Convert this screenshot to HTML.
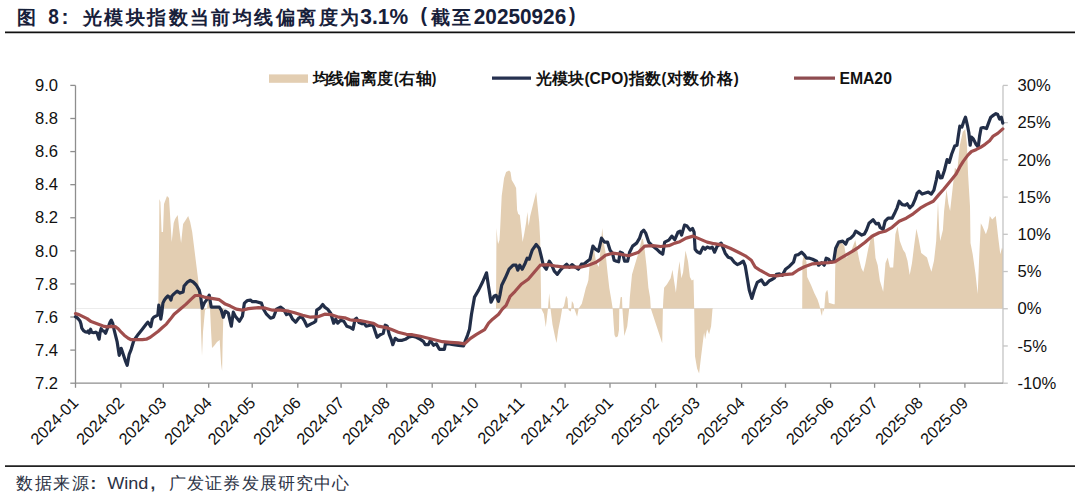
<!DOCTYPE html>
<html><head><meta charset="utf-8"><title>光模块指数当前均线偏离度</title>
<style>html,body{margin:0;padding:0;background:#fff;width:1080px;height:498px;overflow:hidden;font-family:"Liberation Sans", sans-serif;}svg{display:block;}</style>
</head><body>
<svg width="1080" height="498" viewBox="0 0 1080 498" font-family='"Liberation Sans", sans-serif' font-size="16.6" fill="#111">
<rect width="1080" height="498" fill="#ffffff"/>
<g fill="#17203a" font-weight="bold" font-size="19"><text x="26.90" y="23.8" text-anchor="middle">图</text><text x="48.3" y="24.2" textLength="10.6" lengthAdjust="spacingAndGlyphs" font-size="22.2">8</text><text x="61.6" y="24.4" font-size="21">:</text><text x="92.40" y="23.8" text-anchor="middle">光</text><text x="113.82" y="23.8" text-anchor="middle">模</text><text x="135.24" y="23.8" text-anchor="middle">块</text><text x="156.66" y="23.8" text-anchor="middle">指</text><text x="178.08" y="23.8" text-anchor="middle">数</text><text x="199.50" y="23.8" text-anchor="middle">当</text><text x="220.92" y="23.8" text-anchor="middle">前</text><text x="242.34" y="23.8" text-anchor="middle">均</text><text x="263.76" y="23.8" text-anchor="middle">线</text><text x="285.18" y="23.8" text-anchor="middle">偏</text><text x="306.60" y="23.8" text-anchor="middle">离</text><text x="328.02" y="23.8" text-anchor="middle">度</text><text x="349.44" y="23.8" text-anchor="middle">为</text><text x="360.3" y="24.2" textLength="47.8" lengthAdjust="spacingAndGlyphs" font-size="22.2">3.1%</text><text x="420.4" y="21.8" font-size="19.5">(</text><text x="440.75" y="23.8" text-anchor="middle">截</text><text x="461.90" y="23.8" text-anchor="middle">至</text><text x="473.8" y="24.2" textLength="92.4" lengthAdjust="spacingAndGlyphs" font-size="22.2">20250926</text><text x="569" y="21.8" font-size="19.5">)</text></g>
<g fill="#2b3244" font-size="17"><text x="24.70" y="489" text-anchor="middle">数</text><text x="43.20" y="489" text-anchor="middle">据</text><text x="61.65" y="489" text-anchor="middle">来</text><text x="80.30" y="489" text-anchor="middle">源</text><text x="90.6" y="489" font-weight="bold">:</text><text x="107.2" y="489" textLength="41.2" lengthAdjust="spacingAndGlyphs">Wind</text><text x="150.5" y="489" font-weight="bold">,</text><text x="177.60" y="489" text-anchor="middle">广</text><text x="195.70" y="489" text-anchor="middle">发</text><text x="213.80" y="489" text-anchor="middle">证</text><text x="231.90" y="489" text-anchor="middle">券</text><text x="250.00" y="489" text-anchor="middle">发</text><text x="268.10" y="489" text-anchor="middle">展</text><text x="286.20" y="489" text-anchor="middle">研</text><text x="304.30" y="489" text-anchor="middle">究</text><text x="322.40" y="489" text-anchor="middle">中</text><text x="340.50" y="489" text-anchor="middle">心</text></g><line x1="5" y1="32.4" x2="1075" y2="32.4" stroke="#111" stroke-width="1.6"/><line x1="5" y1="466.1" x2="1075" y2="466.1" stroke="#222" stroke-width="1.6"/>
<polygon points="158.3,308.5 159.0,250.0 159.4,199.0 160.4,202.0 161.6,232.0 163.0,232.0 164.0,204.0 167.0,196.0 169.0,198.0 170.0,214.0 171.7,242.0 173.7,223.0 175.1,219.0 177.7,215.0 179.1,228.0 181.1,243.0 183.1,224.0 185.7,220.0 188.2,216.0 190.2,222.0 192.2,232.0 194.2,248.0 196.2,264.0 198.2,280.0 199.8,300.5 200.5,308.5 201.0,330.0 202.0,356.0 203.0,332.0 205.0,310.0 207.0,308.5 208.0,300.0 209.0,300.0 210.0,308.5 211.0,330.0 212.0,348.0 214.0,346.0 217.0,342.0 219.7,340.0 221.1,364.0 222.1,371.0 222.7,340.0 223.5,312.0 224.0,308.5" fill="#e3ceb2"/>
<polygon points="496.0,308.5 496.5,228.0 497.5,240.0 498.1,244.0 499.5,240.0 500.1,230.0 501.7,196.0 504.1,178.0 506.1,172.0 509.1,170.4 510.5,172.0 511.7,180.0 514.1,184.0 516.1,188.0 517.1,210.0 518.2,214.0 519.8,215.0 521.2,228.0 522.6,242.0 524.2,234.0 526.2,222.0 527.4,212.0 528.6,226.0 530.2,216.0 532.2,208.0 534.2,200.0 536.2,192.0 537.8,208.0 539.2,222.0 540.2,240.0 541.2,308.5 543.9,314.0 545.8,327.2 547.3,314.0 548.0,308.5 549.2,293.2 550.5,308.5 552.5,324.6 555.2,337.6 556.5,342.9 558.3,329.8 560.4,319.3 562.2,308.5 564.0,306.0 566.1,295.8 567.5,298.4 568.2,308.5 568.8,310.2 570.8,311.5 571.3,308.5 571.9,301.0 573.5,303.7 574.2,308.5 575.3,311.5 577.1,316.7 578.7,308.5 581.8,303.7 583.9,295.8 585.8,288.0 587.6,283.0 588.4,280.0 590.2,259.0 592.3,245.0 594.2,250.0 596.0,262.0 598.8,267.0 600.5,250.0 602.2,228.0 603.8,243.5 605.4,251.4 607.5,272.3 609.3,288.0 611.1,298.4 612.7,308.5 613.7,324.6 614.5,335.0 615.8,337.6 617.9,336.3 619.0,329.8 619.3,308.5 620.6,297.2 622.0,297.0 622.4,308.5 624.3,336.0 627.2,326.4 629.2,308.5 629.8,297.5 632.0,274.6 634.5,266.0 638.1,254.0 641.7,239.6 642.9,238.4 644.6,249.3 646.5,266.0 648.4,287.8 650.1,297.5 650.8,308.5 662.2,343.3 662.9,308.5 663.3,300.0 664.1,287.8 667.0,284.2 670.6,278.2 672.5,269.8 674.2,281.8 675.9,292.7 677.8,273.4 679.5,261.3 681.4,278.2 683.1,272.2 685.5,250.5 688.0,261.3 689.9,277.0 691.8,280.6 693.5,279.4 694.2,308.5 695.0,356.3 697.1,368.4 699.1,373.4 701.1,356.3 703.1,340.2 704.1,332.2 705.1,339.2 707.1,329.2 709.1,334.2 711.1,326.2 712.5,309.0 713.0,308.5" fill="#e3ceb2"/>
<polygon points="802.2,308.5 802.4,262.0 803.5,256.0 805.0,257.0 806.5,262.0 807.2,277.0 811.0,285.0 814.3,293.0 817.5,299.5 819.1,304.3 820.2,308.5 821.0,313.0 822.0,316.0 822.8,308.5 823.5,312.0 824.3,308.5 825.5,293.0 827.2,289.8 828.0,293.0 828.8,302.7 833.6,304.3 834.7,304.3 835.2,268.2 836.2,250.0 838.2,245.0 841.2,242.0 844.3,246.0 846.3,258.0 849.3,254.0 852.3,248.0 855.3,240.0 857.3,250.0 859.3,260.0 861.3,268.0 863.3,272.0 865.3,264.0 868.4,248.0 871.4,236.0 873.4,233.0 875.5,258.0 877.7,265.2 879.9,280.7 883.2,291.7 885.5,263.0 887.7,257.5 889.9,267.4 893.2,267.4 895.4,234.3 897.6,226.6 899.8,240.9 903.1,249.7 905.3,253.1 907.5,260.8 909.7,275.1 912.0,263.0 914.2,245.3 916.4,228.8 918.6,238.7 921.2,253.1 924.1,255.3 927.0,257.5 929.2,265.2 931.4,271.8 934.0,260.8 936.2,240.9 938.0,201.4 939.2,229.8 940.2,240.9 942.9,229.9 944.1,211.0 946.5,189.4 948.4,203.8 950.1,211.0 952.5,189.4 954.9,167.7 957.3,170.2 959.7,146.1 962.8,131.7 965.2,129.2 966.9,143.7 968.1,175.0 970.0,206.2 970.5,243.1 972.7,254.2 975.5,274.0 977.7,293.9 979.3,254.2 980.8,223.2 982.6,226.6 985.9,234.3 988.1,227.7 989.8,215.9 992.2,219.5 995.8,215.9 998.1,236.5 1000.3,254.2 1002.0,247.5 1003.0,250.0 1003.0,308.5" fill="#e3ceb2"/>
<line x1="75.5" y1="308.5" x2="1003.0" y2="308.5" stroke="#000" stroke-opacity="0.075" stroke-width="1"/>
<line x1="75.5" y1="85.4" x2="75.5" y2="383.8" stroke="#8e8e8e" stroke-width="1.3"/>
<line x1="1003.0" y1="85.4" x2="1003.0" y2="383.2" stroke="#c4c4c4" stroke-width="1.3"/>
<line x1="75.5" y1="383.2" x2="1003.0" y2="383.2" stroke="#8e8e8e" stroke-width="1.3"/>
<line x1="70.3" y1="85.40" x2="75.5" y2="85.40" stroke="#8e8e8e" stroke-width="1.3"/>
<line x1="70.3" y1="118.49" x2="75.5" y2="118.49" stroke="#8e8e8e" stroke-width="1.3"/>
<line x1="70.3" y1="151.58" x2="75.5" y2="151.58" stroke="#8e8e8e" stroke-width="1.3"/>
<line x1="70.3" y1="184.67" x2="75.5" y2="184.67" stroke="#8e8e8e" stroke-width="1.3"/>
<line x1="70.3" y1="217.76" x2="75.5" y2="217.76" stroke="#8e8e8e" stroke-width="1.3"/>
<line x1="70.3" y1="250.84" x2="75.5" y2="250.84" stroke="#8e8e8e" stroke-width="1.3"/>
<line x1="70.3" y1="283.93" x2="75.5" y2="283.93" stroke="#8e8e8e" stroke-width="1.3"/>
<line x1="70.3" y1="317.02" x2="75.5" y2="317.02" stroke="#8e8e8e" stroke-width="1.3"/>
<line x1="70.3" y1="350.11" x2="75.5" y2="350.11" stroke="#8e8e8e" stroke-width="1.3"/>
<line x1="70.3" y1="383.20" x2="75.5" y2="383.20" stroke="#8e8e8e" stroke-width="1.3"/>
<line x1="1003.0" y1="85.40" x2="1007.8" y2="85.40" stroke="#c4c4c4" stroke-width="1.3"/>
<line x1="1003.0" y1="122.62" x2="1007.8" y2="122.62" stroke="#c4c4c4" stroke-width="1.3"/>
<line x1="1003.0" y1="159.85" x2="1007.8" y2="159.85" stroke="#c4c4c4" stroke-width="1.3"/>
<line x1="1003.0" y1="197.07" x2="1007.8" y2="197.07" stroke="#c4c4c4" stroke-width="1.3"/>
<line x1="1003.0" y1="234.30" x2="1007.8" y2="234.30" stroke="#c4c4c4" stroke-width="1.3"/>
<line x1="1003.0" y1="271.52" x2="1007.8" y2="271.52" stroke="#c4c4c4" stroke-width="1.3"/>
<line x1="1003.0" y1="308.75" x2="1007.8" y2="308.75" stroke="#c4c4c4" stroke-width="1.3"/>
<line x1="1003.0" y1="345.97" x2="1007.8" y2="345.97" stroke="#c4c4c4" stroke-width="1.3"/>
<line x1="1003.0" y1="383.20" x2="1007.8" y2="383.20" stroke="#c4c4c4" stroke-width="1.3"/>
<line x1="75.5" y1="383.2" x2="75.5" y2="387.8" stroke="#8e8e8e" stroke-width="1.3"/>
<line x1="120.9" y1="383.2" x2="120.9" y2="387.8" stroke="#8e8e8e" stroke-width="1.3"/>
<line x1="163.3" y1="383.2" x2="163.3" y2="387.8" stroke="#8e8e8e" stroke-width="1.3"/>
<line x1="208.7" y1="383.2" x2="208.7" y2="387.8" stroke="#8e8e8e" stroke-width="1.3"/>
<line x1="252.2" y1="383.2" x2="252.2" y2="387.8" stroke="#8e8e8e" stroke-width="1.3"/>
<line x1="297.8" y1="383.2" x2="297.8" y2="387.8" stroke="#8e8e8e" stroke-width="1.3"/>
<line x1="341.1" y1="383.2" x2="341.1" y2="387.8" stroke="#8e8e8e" stroke-width="1.3"/>
<line x1="386.7" y1="383.2" x2="386.7" y2="387.8" stroke="#8e8e8e" stroke-width="1.3"/>
<line x1="432.2" y1="383.2" x2="432.2" y2="387.8" stroke="#8e8e8e" stroke-width="1.3"/>
<line x1="475.6" y1="383.2" x2="475.6" y2="387.8" stroke="#8e8e8e" stroke-width="1.3"/>
<line x1="521.1" y1="383.2" x2="521.1" y2="387.8" stroke="#8e8e8e" stroke-width="1.3"/>
<line x1="565.1" y1="383.2" x2="565.1" y2="387.8" stroke="#8e8e8e" stroke-width="1.3"/>
<line x1="610" y1="383.2" x2="610" y2="387.8" stroke="#8e8e8e" stroke-width="1.3"/>
<line x1="655.6" y1="383.2" x2="655.6" y2="387.8" stroke="#8e8e8e" stroke-width="1.3"/>
<line x1="696.7" y1="383.2" x2="696.7" y2="387.8" stroke="#8e8e8e" stroke-width="1.3"/>
<line x1="741.6" y1="383.2" x2="741.6" y2="387.8" stroke="#8e8e8e" stroke-width="1.3"/>
<line x1="785.5" y1="383.2" x2="785.5" y2="387.8" stroke="#8e8e8e" stroke-width="1.3"/>
<line x1="830.6" y1="383.2" x2="830.6" y2="387.8" stroke="#8e8e8e" stroke-width="1.3"/>
<line x1="874.6" y1="383.2" x2="874.6" y2="387.8" stroke="#8e8e8e" stroke-width="1.3"/>
<line x1="919.7" y1="383.2" x2="919.7" y2="387.8" stroke="#8e8e8e" stroke-width="1.3"/>
<line x1="964.9" y1="383.2" x2="964.9" y2="387.8" stroke="#8e8e8e" stroke-width="1.3"/>
<polyline points="75.5,316.6 77.5,318.1 80.0,321.1 81.0,324.1 81.8,328.2 83.5,330.7 85.5,332.0 87.0,332.2 88.1,331.0 89.1,333.2 90.6,329.2 91.6,332.2 93.6,332.7 95.6,332.2 97.1,333.2 99.1,339.2 100.1,332.2 101.1,328.7 102.6,330.7 104.1,331.2 105.6,333.2 107.1,329.2 108.9,325.1 110.1,322.1 111.3,320.1 112.7,323.1 114.2,330.2 115.7,336.2 116.7,340.0 117.2,342.2 119.2,355.3 121.2,348.3 123.2,354.3 125.2,360.3 127.2,365.3 129.2,354.3 131.2,349.3 133.3,342.2 134.2,340.0 138.3,334.2 142.3,329.2 146.3,324.1 147.8,322.1 149.3,324.1 150.8,326.6 152.3,319.1 153.8,317.1 155.8,316.1 157.8,315.1 158.8,305.1 159.8,310.1 160.8,319.1 161.8,313.1 162.9,303.1 164.4,300.0 165.9,298.0 167.9,296.0 169.4,297.0 170.9,300.0 171.9,296.0 173.7,294.1 177.1,291.1 180.1,293.1 183.1,292.1 184.1,286.1 187.1,282.4 190.2,280.4 193.2,282.0 196.2,285.0 199.2,290.1 200.6,296.1 202.2,308.2 204.2,303.1 207.2,299.1 209.2,295.1 211.2,307.1 214.3,307.1 219.3,307.1 221.3,310.2 223.3,317.2 225.3,311.2 228.3,313.2 231.3,326.2 233.3,312.2 235.3,316.2 239.4,321.2 242.4,316.2 244.4,303.1 247.4,300.5 250.4,300.1 252.4,301.7 256.4,301.7 261.4,303.1 263.5,309.2 266.5,314.2 270.5,318.2 273.5,317.2 276.5,309.2 280.5,307.1 283.5,309.2 286.5,314.6 289.6,313.2 292.6,319.2 295.6,322.2 298.6,318.2 301.6,316.6 304.6,321.2 307.0,326.2 310.6,324.2 313.7,322.6 315.7,321.2 316.7,310.2 319.7,308.2 322.7,304.5 324.7,307.1 327.7,309.2 330.7,313.2 333.7,323.2 335.7,319.2 337.8,323.2 340.8,320.2 343.8,321.2 346.8,326.2 349.8,327.2 353.0,329.2 355.1,319.2 356.5,318.2 359.1,322.6 362.1,323.8 364.1,323.2 366.1,326.2 370.1,325.2 373.1,325.2 375.1,331.2 377.1,337.3 380.2,334.7 383.2,333.3 385.2,325.2 387.2,326.2 389.2,334.3 391.2,339.3 392.8,344.7 395.2,338.3 398.2,340.3 402.2,340.3 405.3,339.3 408.3,337.3 412.3,336.3 416.3,337.3 420.3,339.3 423.3,341.3 425.3,344.7 428.4,344.7 430.4,340.3 433.4,345.3 436.4,343.9 439.4,349.3 442.4,349.3 444.4,349.3 445.4,343.9 449.4,343.9 453.5,344.7 458.5,345.3 463.5,345.9 465.5,340.3 467.5,335.3 469.5,329.2 471.5,314.2 474.5,297.1 478.6,290.1 482.6,282.0 486.5,272.8 488.5,286.2 491.0,302.2 494.0,296.3 496.1,295.3 498.5,301.3 500.1,294.3 501.7,285.3 505.1,278.3 509.1,269.2 513.1,265.2 516.1,265.2 517.8,270.2 519.8,265.2 522.2,269.2 525.2,263.2 527.2,258.2 529.2,259.2 532.2,250.2 536.2,244.5 539.2,248.2 541.2,256.2 543.3,265.2 546.3,269.2 549.3,261.2 551.3,264.2 554.3,271.2 557.3,274.3 560.3,270.2 563.3,267.2 566.7,264.2 569.4,267.2 572.0,264.6 575.4,267.2 578.4,269.2 581.4,264.2 584.4,263.8 587.4,261.2 590.0,259.2 592.9,246.1 595.5,249.2 598.5,251.2 601.5,238.1 604.5,242.1 607.5,242.1 610.1,250.2 612.5,253.2 614.1,260.2 616.5,261.2 618.6,261.8 620.2,252.2 622.6,253.2 624.6,261.2 627.6,261.2 629.6,252.2 632.6,246.1 636.6,243.1 639.6,238.1 641.6,232.1 643.7,230.1 645.7,233.1 648.7,242.1 652.7,246.1 656.7,249.2 659.7,252.2 662.7,254.2 664.7,242.1 668.8,240.1 671.8,236.1 674.8,239.7 678.0,232.1 680.0,231.1 681.6,235.1 684.5,225.1 687.1,226.1 690.1,230.1 692.5,228.5 694.1,232.1 695.1,249.2 697.1,251.8 700.1,253.2 703.1,247.1 705.1,249.2 707.1,247.1 710.2,248.2 712.2,247.1 714.6,252.2 717.2,246.1 721.2,243.1 723.2,248.2 725.2,253.2 728.2,257.2 731.2,258.2 734.3,262.2 737.3,264.6 740.3,263.2 743.3,261.2 745.3,266.2 747.3,278.3 749.3,290.3 751.9,298.4 754.3,290.3 757.3,282.3 761.4,279.9 764.4,284.7 766.4,283.9 769.4,280.7 772.4,279.3 774.4,277.9 776.4,274.3 779.4,273.9 782.4,275.3 785.5,269.2 789.5,266.2 793.5,262.2 795.5,255.2 798.5,254.6 801.5,252.2 804.5,255.2 806.5,258.2 809.6,258.2 812.6,259.2 816.6,261.2 818.6,265.2 821.6,262.6 824.2,265.2 826.2,258.2 828.6,259.2 830.6,262.2 833.7,261.2 835.7,248.2 838.7,242.1 842.7,241.1 845.7,244.1 847.7,239.7 850.7,238.1 853.7,235.1 855.7,231.1 858.8,233.1 861.8,235.1 864.4,234.1 866.5,230.0 869.0,223.3 873.1,219.8 876.1,223.9 878.5,223.3 880.1,227.3 883.1,229.3 885.1,221.2 888.1,218.2 892.1,218.2 895.1,212.2 897.1,207.8 899.2,201.2 902.2,204.6 905.2,205.2 907.2,203.8 909.8,207.8 912.6,205.2 915.2,199.2 917.2,193.1 919.2,191.1 922.2,194.1 925.3,193.1 928.3,192.1 931.3,194.1 933.9,190.1 936.3,180.1 937.9,171.5 940.3,178.0 942.0,177.7 944.4,170.5 947.1,159.6 949.3,162.4 951.6,154.2 954.7,146.1 957.0,145.2 958.3,136.1 959.8,126.2 961.9,127.1 963.7,121.7 965.5,117.2 967.4,125.3 968.8,132.5 970.2,145.2 971.5,137.1 973.3,138.9 976.0,144.3 978.2,147.0 979.6,136.1 981.1,128.0 983.3,127.5 986.5,128.6 988.7,122.6 990.8,117.2 993.2,115.4 995.9,113.6 997.7,114.5 999.5,119.0 1001.3,117.2 1002.8,123.1" fill="none" stroke="#222e48" stroke-width="3.2" stroke-linejoin="round" stroke-linecap="round"/>
<polyline points="75.5,313.6 79.0,314.6 83.0,316.6 87.1,318.6 91.1,321.6 95.1,323.1 99.1,324.6 103.1,326.1 107.1,326.9 111.1,326.3 115.2,326.6 118.2,328.7 121.2,332.2 124.2,335.2 128.2,338.2 131.2,339.7 136.2,339.7 142.3,339.7 146.3,339.2 150.3,337.2 154.3,334.2 158.3,331.2 162.4,327.5 166.4,324.1 170.4,319.1 174.1,314.2 180.1,309.2 186.1,304.1 191.2,299.1 195.2,295.5 199.2,295.5 204.2,297.1 210.2,298.1 219.3,299.7 225.3,304.1 230.3,306.1 236.3,309.2 242.4,310.2 248.4,308.6 258.4,307.6 265.5,308.2 272.5,310.2 280.5,310.2 288.6,311.2 294.6,312.8 302.6,315.2 310.6,317.2 318.7,316.6 324.7,314.2 330.7,314.6 338.8,317.2 344.8,317.8 349.8,319.8 352.0,320.2 360.1,320.6 366.1,321.8 373.1,323.2 378.2,326.2 386.2,327.6 392.2,329.8 398.2,332.2 406.3,334.3 412.3,334.7 420.3,336.3 428.4,338.3 436.4,340.3 442.4,341.7 450.4,342.3 458.5,342.9 464.5,343.9 470.5,338.3 476.5,334.3 484.6,329.6 488.6,323.2 492.6,319.2 498.6,314.2 502.1,309.4 506.1,305.4 510.1,296.3 515.1,291.3 521.2,284.3 528.2,279.3 534.2,272.2 540.2,265.2 548.3,264.6 556.3,266.2 564.3,267.2 572.4,267.2 580.4,267.2 588.4,265.2 595.5,262.6 600.5,259.2 605.5,255.2 612.5,253.2 620.6,254.2 628.6,255.8 638.6,252.2 644.7,246.1 652.7,245.7 660.7,246.5 668.8,245.7 674.8,243.1 679.8,241.7 686.1,238.1 693.1,236.1 700.1,239.1 707.1,242.1 714.2,243.7 722.2,245.1 730.2,248.2 738.3,252.2 745.3,255.8 751.3,260.2 755.3,267.2 759.4,269.8 764.4,272.7 769.4,275.3 776.4,275.9 784.5,274.7 792.5,273.9 798.5,269.8 804.5,266.8 812.6,263.8 820.6,263.2 828.6,262.6 834.7,261.8 840.7,258.2 846.7,254.6 852.7,251.2 858.8,247.1 864.8,242.5 872.0,236.3 879.1,232.7 885.1,231.3 892.1,227.3 899.2,221.2 906.2,218.2 913.2,213.8 920.2,208.2 926.3,204.6 933.3,201.2 939.3,194.1 943.5,189.5 948.0,184.0 952.5,178.6 956.1,174.1 959.8,166.9 963.4,161.1 967.9,155.1 971.5,151.5 976.0,149.7 980.5,147.4 985.1,144.3 989.6,140.7 993.2,136.1 997.7,133.4 1002.8,128.9" fill="none" stroke="#a04e4d" stroke-width="3.2" stroke-linejoin="round" stroke-linecap="round"/>
<g fill="#111"><text x="58" y="91.10" text-anchor="end">9.0</text><text x="58" y="124.19" text-anchor="end">8.8</text><text x="58" y="157.28" text-anchor="end">8.6</text><text x="58" y="190.37" text-anchor="end">8.4</text><text x="58" y="223.46" text-anchor="end">8.2</text><text x="58" y="256.54" text-anchor="end">8.0</text><text x="58" y="289.63" text-anchor="end">7.8</text><text x="58" y="322.72" text-anchor="end">7.6</text><text x="58" y="355.81" text-anchor="end">7.4</text><text x="58" y="388.90" text-anchor="end">7.2</text></g>
<g fill="#111"><text x="1017.5" y="91.10">30%</text><text x="1017.5" y="128.32">25%</text><text x="1017.5" y="165.55">20%</text><text x="1017.5" y="202.77">15%</text><text x="1017.5" y="240.00">10%</text><text x="1017.5" y="277.22">5%</text><text x="1017.5" y="314.45">0%</text><text x="1017.5" y="351.67">-5%</text><text x="1017.5" y="388.90">-10%</text></g>
<g fill="#111" font-size="16.2"><text transform="translate(79.3,403.8) rotate(-45)" text-anchor="end">2024-01</text><text transform="translate(125.1,403.8) rotate(-45)" text-anchor="end">2024-02</text><text transform="translate(167.5,403.8) rotate(-45)" text-anchor="end">2024-03</text><text transform="translate(212.9,403.8) rotate(-45)" text-anchor="end">2024-04</text><text transform="translate(256.4,403.8) rotate(-45)" text-anchor="end">2024-05</text><text transform="translate(302.0,403.8) rotate(-45)" text-anchor="end">2024-06</text><text transform="translate(345.3,403.8) rotate(-45)" text-anchor="end">2024-07</text><text transform="translate(390.9,403.8) rotate(-45)" text-anchor="end">2024-08</text><text transform="translate(436.4,403.8) rotate(-45)" text-anchor="end">2024-09</text><text transform="translate(479.8,403.8) rotate(-45)" text-anchor="end">2024-10</text><text transform="translate(525.3,403.8) rotate(-45)" text-anchor="end">2024-11</text><text transform="translate(569.3,403.8) rotate(-45)" text-anchor="end">2024-12</text><text transform="translate(614.2,403.8) rotate(-45)" text-anchor="end">2025-01</text><text transform="translate(659.8,403.8) rotate(-45)" text-anchor="end">2025-02</text><text transform="translate(700.9,403.8) rotate(-45)" text-anchor="end">2025-03</text><text transform="translate(745.8,403.8) rotate(-45)" text-anchor="end">2025-04</text><text transform="translate(789.7,403.8) rotate(-45)" text-anchor="end">2025-05</text><text transform="translate(834.8,403.8) rotate(-45)" text-anchor="end">2025-06</text><text transform="translate(878.8,403.8) rotate(-45)" text-anchor="end">2025-07</text><text transform="translate(923.9,403.8) rotate(-45)" text-anchor="end">2025-08</text><text transform="translate(969.1,403.8) rotate(-45)" text-anchor="end">2025-09</text></g>
<g font-weight="bold" fill="#111" font-size="16"><rect x="269" y="74.4" width="39" height="8.4" fill="#e3ceb2"/><line x1="492" y1="78.2" x2="531" y2="78.2" stroke="#263150" stroke-width="3.2"/><line x1="794" y1="78.2" x2="835" y2="78.2" stroke="#8e4c50" stroke-width="3.2"/><text x="320.85" y="83.6" text-anchor="middle">均</text><text x="336.45" y="83.6" text-anchor="middle">线</text><text x="352.30" y="83.6" text-anchor="middle">偏</text><text x="368.85" y="83.6" text-anchor="middle">离</text><text x="385.40" y="83.6" text-anchor="middle">度</text><text x="394" y="83.6" textLength="4.6" lengthAdjust="spacingAndGlyphs">(</text><text x="407.10" y="83.6" text-anchor="middle">右</text><text x="423.60" y="83.6" text-anchor="middle">轴</text><text x="431.8" y="83.6" textLength="4.6" lengthAdjust="spacingAndGlyphs">)</text><text x="543.75" y="83.6" text-anchor="middle">光</text><text x="559.85" y="83.6" text-anchor="middle">模</text><text x="576.20" y="83.6" text-anchor="middle">块</text><text x="584.4" y="83.6" textLength="44" lengthAdjust="spacingAndGlyphs">(CPO)</text><text x="636.50" y="83.6" text-anchor="middle">指</text><text x="653.20" y="83.6" text-anchor="middle">数</text><text x="661.6" y="83.6" textLength="4.8" lengthAdjust="spacingAndGlyphs">(</text><text x="675.15" y="83.6" text-anchor="middle">对</text><text x="691.45" y="83.6" text-anchor="middle">数</text><text x="708.15" y="83.6" text-anchor="middle">价</text><text x="724.85" y="83.6" text-anchor="middle">格</text><text x="733.8" y="83.6" textLength="5" lengthAdjust="spacingAndGlyphs">)</text><text x="839.4" y="84" textLength="52.5" lengthAdjust="spacingAndGlyphs">EMA20</text></g>
</svg>
</body></html>
